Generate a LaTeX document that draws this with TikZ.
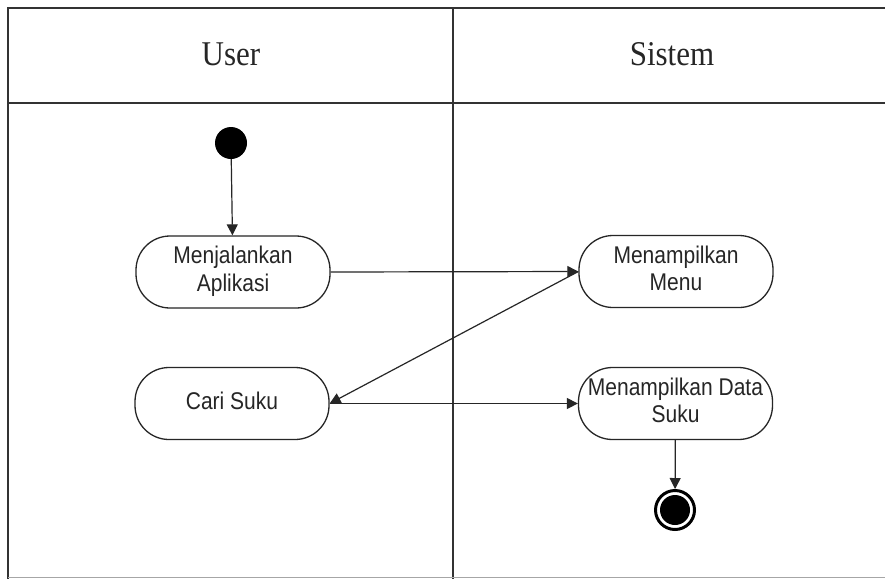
\documentclass[tikz,border=0pt]{standalone}
\usepackage{fontspec}
\setmainfont{Liberation Sans}
\newfontfamily\headfont{Liberation Serif}
\usetikzlibrary{arrows.meta}
% slightly tall lettering, as in the swimlane sheet
\newcommand\tallbox[1]{\scalebox{1}[1.15]{\begin{tabular}{@{}c@{}}#1\end{tabular}}}
\tikzset{
  x=1pt, y=-1pt,
  act/.style={draw=black!85, line width=1.3pt, rounded corners=34pt,
    minimum width=194pt, minimum height=72pt, inner sep=0pt, fill=white,
    text=black!85, font=\fontsize{21}{24}\selectfont},
  flow/.style={draw=black!85, line width=1.2pt,
    -{Triangle[length=11pt,width=11pt]}},
  lane/.style={draw=black!80, line width=1.8pt},
  lanehead/.style={anchor=base, text=black!85,
    font=\headfont\fontsize{31}{31}\selectfont},
}
\begin{document}
\begin{tikzpicture}
  \useasboundingbox (0,0) rectangle (885,579);
  \fill[white] (0,0) rectangle (885,579);

  % swimlane frame
  \draw[lane] (885,8) -- (8,8) -- (8,579);
  \draw[lane] (8,103) -- (885,103);
  \draw[lane] (453,8) -- (453,579);
  \draw[draw=black!35, line width=1.2pt] (8,577.5) -- (885,577.5);

  \node[lanehead] (user) at (231,65) {\scalebox{1}[1.12]{User}};
  \node[lanehead] (sistem) at (672,65) {\scalebox{1}[1.12]{Sistem}};

  % start and end
  \node[circle, fill=black, minimum size=32pt, inner sep=0pt] (start) at (231,143) {};
  \node[circle, draw=black, line width=3pt, minimum size=39pt, inner sep=0pt] (end) at (675,510) {};
  \fill[black] (end.center) circle (15pt);

  % activities
  \node[act] (run)  at (233,272)   {\tallbox{Menjalankan\\Aplikasi}};
  \node[act] (menu) at (676,271.5) {\tallbox{Menampilkan\\Menu}};
  \node[act] (cari) at (232,403.5) {\tallbox{Cari Suku}};
  \node[act] (data) at (675.5,403.5) {\tallbox{Menampilkan Data\\Suku}};

  % control flow
  \draw[flow] (start) -- (run);
  \draw[flow] (run.east) -- (menu.west);
  \draw[flow] (menu.west) -- (cari.east);
  \draw[flow] (cari.east) -- (data.west);
  \draw[flow] (data) -- (end);
\end{tikzpicture}
\end{document}
